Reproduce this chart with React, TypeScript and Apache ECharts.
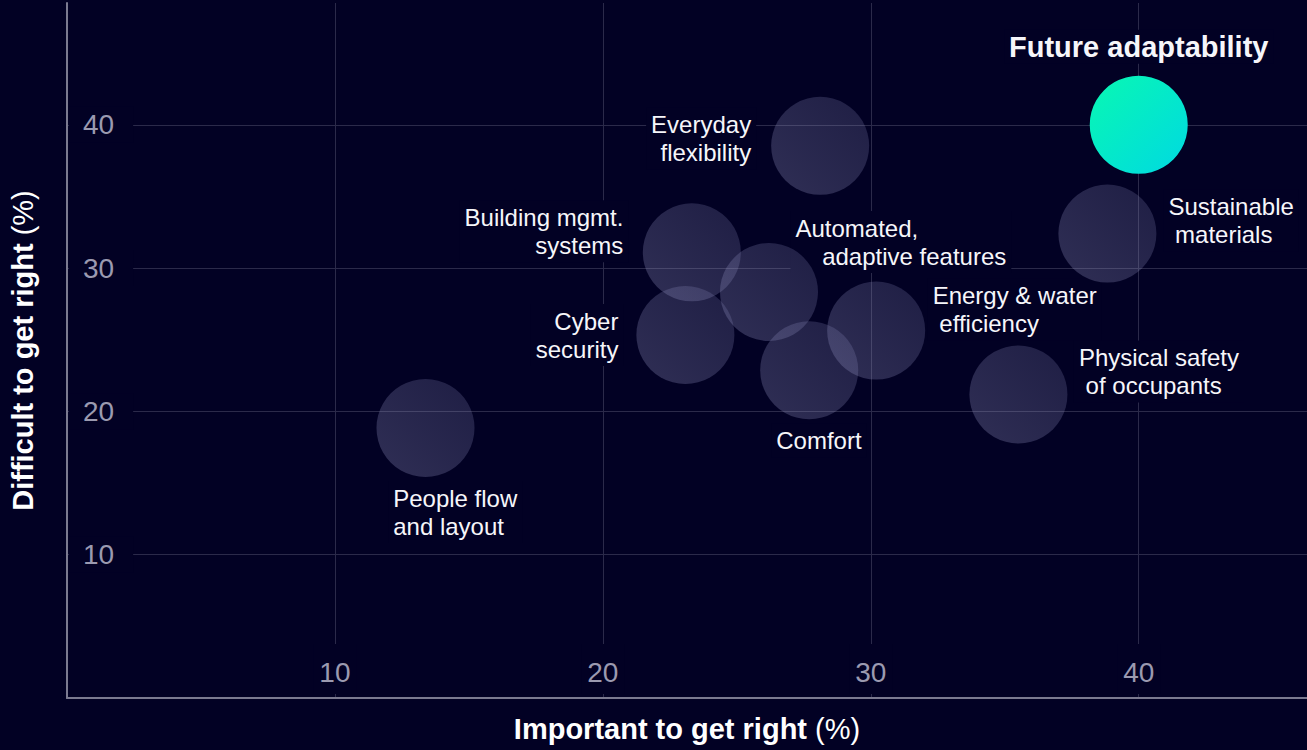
import React, { useEffect, useRef } from "react";
import * as echarts from "echarts";

// ---- data ----
const categories = [
  "Future adaptability",
  "Sustainable materials",
  "Everyday flexibility",
  "Building mgmt. systems",
  "Automated, adaptive features",
  "Cyber security",
  "Energy & water efficiency",
  "Comfort",
  "Physical safety of occupants",
  "People flow and layout",
];
const labelTexts = [
  "Future adaptability",
  "Sustainable\n\u00a0materials",
  "Everyday\nflexibility",
  "Building mgmt.\nsystems",
  "Automated,\n\u00a0\u00a0\u00a0\u00a0adaptive features",
  "Cyber\nsecurity",
  "Energy & water\n\u00a0efficiency",
  "Comfort",
  "Physical safety\n\u00a0of occupants",
  "People flow\nand layout",
];
// Important to get right (%)
const important = [40, 38.83, 28.11, 23.32, 26.2, 23.08, 30.2, 27.7, 35.51, 13.38];
// Difficult to get right (%)
const difficult = [40, 32.41, 38.53, 31.1, 28.33, 25.33, 25.64, 22.87, 21.18, 18.84];
const highlighted = "Future adaptability";

// ---- layout / style (not data) ----
const BG = "#020124";
const GRID = "#2b2a4a";
const AXIS = "#7b7a90";
const TICK = "#9b9ab0";
const FONT = "'Liberation Sans', Arial, Helvetica, sans-serif";
const X_MAX = 46.28;
const Y_MAX = 48.5;
const PAD = 5;
const labelLayout: Record<string, { dx: number; dy: number; align: string }> = {
  "Future adaptability": { dx: 0, dy: -78, align: "center" },
  "Sustainable materials": { dx: 61, dy: -13, align: "left" },
  "Everyday flexibility": { dx: -69, dy: -7, align: "right" },
  "Building mgmt. systems": { dx: -68.5, dy: -21, align: "right" },
  "Automated, adaptive features": { dx: 26.5, dy: -50, align: "left" },
  "Cyber security": { dx: -67, dy: 0, align: "right" },
  "Energy & water efficiency": { dx: 56.5, dy: -21, align: "left" },
  Comfort: { dx: 9.7, dy: 70, align: "center" },
  "Physical safety of occupants": { dx: 60.5, dy: -23, align: "left" },
  "People flow and layout": { dx: -32.3, dy: 84, align: "left" },
};

function labelFor(name: string, text: string, mask: boolean) {
  const l = labelLayout[name];
  const isHi = name === highlighted;
  const shift = l.align === "left" ? -PAD : l.align === "right" ? PAD : 0;
  return {
    show: true,
    position: "inside",
    offset: [l.dx + shift, l.dy],
    align: l.align,
    verticalAlign: "middle",
    formatter: text,
    fontFamily: FONT,
    fontSize: isHi ? 29 : 24,
    fontWeight: isHi ? "bold" : "normal",
    lineHeight: 28,
    color: mask ? "rgba(0,0,0,0)" : "#f6f6fa",
    backgroundColor: mask ? BG : "transparent",
    padding: [3, PAD, 3, PAD],
  };
}

export default function App() {
  const ref = useRef<HTMLDivElement>(null);
  useEffect(() => {
    if (!ref.current) return;
    document.body.style.margin = "0";
    document.body.style.background = BG;
    const chart = echarts.init(ref.current, null, { renderer: "svg" });

    const greyFill = new echarts.graphic.LinearGradient(1, 0, 0, 1, [
      { offset: 0, color: "rgba(140,140,190,0.21)" },
      { offset: 1, color: "rgba(150,150,195,0.31)" },
    ]);
    const hiFill = new echarts.graphic.LinearGradient(0, 0, 1, 1, [
      { offset: 0, color: "#08f8b2" },
      { offset: 1, color: "#00d9e2" },
    ]);

    const maskData = categories.map((n, i) => ({
      name: n,
      value: [important[i], difficult[i]],
      label: labelFor(n, labelTexts[i], true),
    }));
    const bubbleData = categories.map((n, i) => ({
      name: n,
      value: [important[i], difficult[i]],
      itemStyle: { color: n === highlighted ? hiFill : greyFill, opacity: 1 },
      label: labelFor(n, labelTexts[i], false),
    }));

    const nameRich = {
      b: { fontFamily: FONT, fontSize: 29, fontWeight: "bold", color: "#ffffff" },
      r: { fontFamily: FONT, fontSize: 29, fontWeight: "normal", color: "#ffffff" },
    };

    chart.setOption({
      animation: false,
      backgroundColor: BG,
      grid: { left: 63.6, right: 0, top: 3, bottom: 52, containLabel: false },
      tooltip: { show: false },
      xAxis: [
        {
          type: "value",
          min: 0,
          max: X_MAX,
          interval: 10,
          z: 1,
          axisLine: { show: true, onZero: false, lineStyle: { color: AXIS, width: 2 } },
          axisTick: { show: false },
          splitLine: { show: false },
          axisLabel: {
            inside: true,
            margin: 4,
            fontFamily: FONT,
            fontSize: 28,
            color: TICK,
            backgroundColor: BG,
            padding: [14, 6, 8, 6],
            showMinLabel: false,
            showMaxLabel: false,
          },
          name: "{b|Important to get right} {r|(%)}",
          nameLocation: "middle",
          nameGap: 16,
          nameTextStyle: { fontFamily: FONT, fontSize: 29, color: "#ffffff", rich: nameRich },
        },
        {
          type: "value",
          min: 0,
          max: X_MAX,
          interval: 10,
          position: "bottom",
          z: 0,
          axisLine: { show: false },
          axisTick: { show: false },
          axisLabel: { show: false },
          splitLine: {
            show: true,
            showMinLine: false,
            showMaxLine: false,
            lineStyle: { color: GRID, width: 1 },
          },
        },
      ],
      yAxis: [
        {
          type: "value",
          min: 0,
          max: Y_MAX,
          interval: 10,
          z: 1,
          axisLine: { show: true, onZero: false, lineStyle: { color: AXIS, width: 2 } },
          axisTick: { show: false },
          splitLine: { show: false },
          axisLabel: {
            inside: true,
            margin: 2,
            fontFamily: FONT,
            fontSize: 28,
            color: TICK,
            backgroundColor: BG,
            padding: [4, 19, 4, 14],
            showMinLabel: false,
            showMaxLabel: false,
          },
          name: "{b|Difficult to get right} {r|(%)}",
          nameLocation: "middle",
          nameGap: 30,
          nameTextStyle: { fontFamily: FONT, fontSize: 29, color: "#ffffff", rich: nameRich },
        },
        {
          type: "value",
          min: 0,
          max: Y_MAX,
          interval: 10,
          position: "left",
          z: 0,
          axisLine: { show: false },
          axisTick: { show: false },
          axisLabel: { show: false },
          splitLine: {
            show: true,
            showMinLine: false,
            showMaxLine: false,
            lineStyle: { color: GRID, width: 1 },
          },
        },
      ],
      series: [
        {
          type: "scatter",
          name: "mask",
          xAxisIndex: 0,
          yAxisIndex: 0,
          z: 1,
          silent: true,
          symbolSize: 98,
          itemStyle: { color: "rgba(0,0,0,0)", opacity: 1 },
          data: maskData,
        },
        {
          type: "scatter",
          name: "bubbles",
          xAxisIndex: 0,
          yAxisIndex: 0,
          z: 2,
          silent: true,
          symbolSize: 98,
          itemStyle: { opacity: 1 },
          data: bubbleData,
        },
      ],
    });
    return () => chart.dispose();
  }, []);
  return <div ref={ref} style={{ width: 1307, height: 750, background: BG }} />;
}
